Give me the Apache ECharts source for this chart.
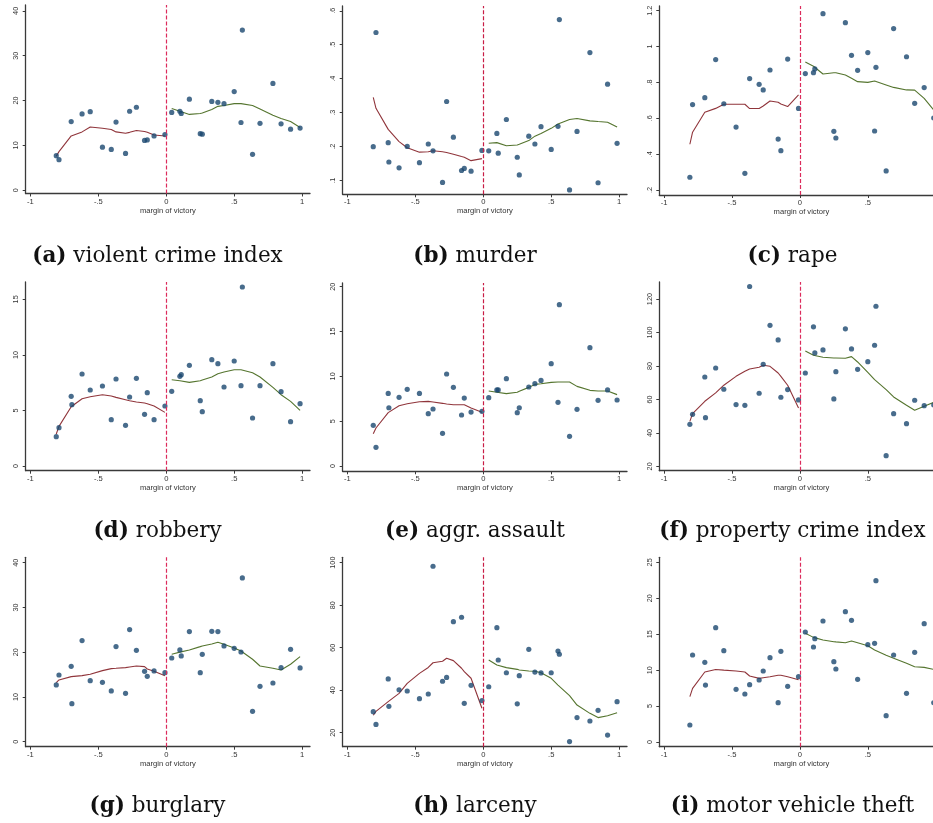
<!DOCTYPE html>
<html><head><meta charset="utf-8">
<script src="https://cdn.jsdelivr.net/npm/echarts@6/dist/echarts.min.js"></script>
<style>html,body{margin:0;padding:0;background:#fff}#c{width:933px;height:823px}</style>
</head><body><div id="c"></div>
<script>
// ---- shared x positions (margin of victory) ----
const xLeft  = [-0.81, -0.79, -0.70, -0.695, -0.62, -0.56, -0.47, -0.405, -0.37, -0.30, -0.27, -0.22, -0.16, -0.14, -0.09, -0.01];
const xRight = [0.04, 0.10, 0.11, 0.17, 0.25, 0.265, 0.335, 0.38, 0.425, 0.50, 0.55, 0.56, 0.635, 0.69, 0.785, 0.845, 0.915, 0.985];
const xTicks = [-1, -0.5, 0, 0.5, 1];

// ---- (a) violent crime index ----
const violentPtsL = [7.7, 6.8, 15.3, null, 17.0, 17.5, 9.6, 9.1, 15.2, 8.2, 17.6, 18.5, 11.1, 11.2, 12.1, 12.4];
const violentPtsR = [17.35, 17.6, 17.1, 20.3, 12.6, 12.5, 19.8, 19.6, 19.3, 22.0, 15.1, 35.7, 8.0, 14.9, 23.8, 14.8, 13.6, 13.85];
const violentFitL = [7.6, 8.6, 12.1, 12.2, 13.0, 14.1, 13.8, 13.55, 13.0, 12.7, 12.9, 13.3, 13.1, 12.9, 12.3, 12.1];
const violentFitR = [18.2, 17.6, 17.5, 16.9, 17.1, 17.2, 18.0, 18.7, 18.9, 19.3, 19.3, 19.2, 18.9, 18.1, 16.7, 16.0, 15.3, 14.0];
const violentTicks = [0, 10, 20, 30, 40];

// ---- (b) murder ----
const murderPtsL = [0.200, 0.536, 0.212, 0.155, 0.138, 0.201, 0.153, 0.208, 0.188, 0.095, 0.333, 0.228, 0.130, 0.136, 0.128, 0.189];
const murderPtsR = [0.188, 0.239, 0.181, 0.280, 0.169, 0.117, 0.231, 0.208, 0.259, 0.192, 0.260, 0.574, 0.073, 0.245, 0.477, 0.094, 0.384, 0.210];
const murderFitL = [0.345, 0.313, 0.251, 0.249, 0.215, 0.197, 0.184, 0.185, 0.188, 0.185, 0.183, 0.178, 0.171, 0.169, 0.159, 0.165];
const murderFitR = [0.210, 0.212, 0.211, 0.203, 0.205, 0.207, 0.218, 0.231, 0.239, 0.254, 0.267, 0.269, 0.280, 0.283, 0.276, 0.274, 0.272, 0.258];
const murderTicks = [0.1, 0.2, 0.3, 0.4, 0.5, 0.6];

// ---- (c) rape ----
const rapePtsL = [0.271, 0.676, 0.715, null, 0.927, 0.681, 0.551, 0.293, 0.821, 0.789, 0.758, 0.869, 0.484, 0.419, 0.930, 0.655];
const rapePtsR = [0.849, 0.854, 0.875, 1.183, 0.527, 0.490, 1.133, 0.951, 0.867, 0.966, 0.529, 0.884, 0.306, 1.100, 0.943, 0.683, 0.771, 0.601];
const rapeFitL = [0.455, 0.522, 0.633, 0.634, 0.655, 0.678, 0.678, 0.678, 0.654, 0.654, 0.668, 0.696, 0.689, 0.680, 0.665, 0.730];
const rapeFitR = [0.914, 0.890, 0.885, 0.847, 0.854, 0.854, 0.841, 0.823, 0.804, 0.800, 0.808, 0.808, 0.786, 0.772, 0.758, 0.757, 0.711, 0.646];
const rapeTicks = [0.2, 0.4, 0.6, 0.8, 1, 1.2];

// ---- (d) robbery ----
const robberyPtsL = [2.64, 3.45, 6.27, 5.52, 8.28, 6.84, 7.2, 4.17, 7.83, 3.66, 6.21, 7.89, 4.65, 6.6, 4.17, 5.4];
const robberyPtsR = [6.72, 8.07, 8.22, 9.06, 5.88, 4.89, 9.57, 9.21, 7.11, 9.45, 7.23, 16.11, 4.32, 7.23, 9.21, 6.69, 3.99, 5.61];
const robberyFitL = [2.88, 3.57, 5.34, 5.4, 6.06, 6.24, 6.42, 6.3, 6.18, 5.97, 5.88, 5.76, 5.67, 5.61, 5.4, 4.83];
const robberyFitR = [7.77, 7.68, 7.68, 7.53, 7.68, 7.74, 8.01, 8.31, 8.46, 8.67, 8.67, 8.58, 8.4, 8.01, 7.08, 6.42, 5.82, 5.01];
const robberyTicks = [0, 5, 10, 15];

// ---- (e) aggr. assault ----
const assaultPtsL = [4.54, 2.08, 8.1, 6.5, 7.66, 8.55, 8.1, 5.84, 6.36, 3.64, 10.26, 8.77, 5.69, 7.58, 6.02, 6.1];
const assaultPtsR = [7.62, 8.48, 8.48, 9.74, 5.95, 6.5, 8.81, 9.18, 9.55, 11.41, 7.1, 17.99, 3.31, 6.32, 13.2, 7.32, 8.48, 7.36];
const assaultFitL = [3.6, 4.24, 5.95, 6.0, 6.73, 6.95, 7.17, 7.21, 7.14, 6.99, 6.91, 6.84, 6.84, 6.84, 6.47, 5.99];
const assaultFitR = [8.36, 8.22, 8.2, 8.07, 8.22, 8.33, 8.77, 9.1, 9.18, 9.33, 9.37, 9.37, 9.37, 8.88, 8.44, 8.36, 8.36, 7.96];
const assaultTicks = [0, 5, 10, 15, 20];

// ---- (f) property crime index ----
const propertyPtsL = [45.1, 51.1, 73.4, 49.1, 78.8, 66.1, 56.9, 56.5, 127.5, 63.7, 81.0, 104.3, 95.6, 61.3, 65.9, 59.7];
const propertyPtsR = [75.8, 103.4, 87.8, 89.6, 60.3, 76.6, 102.2, 90.2, 78.0, 82.6, 92.4, 115.7, 26.4, 51.5, 45.5, 59.5, 56.3, 56.7];
const propertyFitL = [46.9, 51.5, 58.9, 59.1, 63.9, 68.5, 73.8, 76.8, 78.2, 79.2, 80.4, 79.8, 75.8, 73.8, 68.5, 54.9];
const propertyFitR = [89.0, 86.4, 86.0, 85.2, 84.8, 84.8, 84.6, 85.6, 82.4, 76.2, 71.8, 70.8, 65.9, 61.5, 56.5, 53.5, 55.9, 58.3];
const propertyTicks = [20, 40, 60, 80, 100, 120];

// ---- (g) burglary ----
const burglaryPtsL = [12.67, 14.9, 16.84, 8.49, 22.58, 13.64, 13.26, 11.33, 21.24, 10.8, 25.04, 20.42, 15.72, 14.6, 15.8, 15.42];
const burglaryPtsR = [18.7, 20.49, 19.15, 24.59, 15.42, 19.52, 24.66, 24.59, 21.39, 20.86, 20.04, 36.59, 6.78, 12.37, 13.11, 16.54, 20.64, 16.47];
const burglaryFitL = [13.19, 13.79, 14.53, 14.55, 14.75, 15.05, 15.87, 16.32, 16.39, 16.54, 16.69, 16.91, 16.77, 16.24, 15.72, 14.75];
const burglaryFitR = [19.52, 20.0, 20.04, 20.49, 21.24, 21.39, 21.83, 22.2, 21.76, 20.94, 20.27, 19.9, 18.41, 16.91, 16.39, 16.02, 17.29, 19.0];
const burglaryTicks = [0, 10, 20, 30, 40];

// ---- (h) larceny ----
const larcenyPtsL = [29.9, 23.9, 45.3, 32.4, 40.2, 39.6, 36.0, 38.2, 98.3, 44.2, 46.0, 72.2, 74.3, 33.8, 42.3, 35.1];
const larcenyPtsR = [41.6, 69.4, 54.2, 48.2, 33.6, 46.8, 59.2, 48.5, 48.1, 48.2, 58.4, 56.9, 15.8, 27.1, 25.5, 30.5, 18.9, 34.6];
const larcenyFitL = [28.2, 30.0, 34.6, 34.8, 38.5, 43.2, 47.9, 50.7, 52.9, 53.6, 55.0, 53.9, 50.3, 48.7, 45.6, 31.5];
const larcenyFitR = [54.2, 51.8, 51.5, 50.6, 49.8, 49.5, 49.0, 48.9, 48.2, 45.6, 42.4, 41.6, 37.4, 33.0, 29.1, 27.1, 28.0, 29.4];
const larcenyTicks = [20, 40, 60, 80, 100];

// ---- (i) motor vehicle theft ----
const theftPtsL = [2.37, 12.11, 11.09, 7.93, 15.91, 12.71, 7.33, 6.68, 7.98, 8.63, 9.88, 11.73, 5.47, 12.62, 7.75, 9.09];
const theftPtsR = [15.31, 13.22, 14.38, 16.84, 11.18, 10.16, 18.14, 16.93, 8.72, 13.54, 13.73, 22.45, 3.66, 12.11, 6.77, 12.48, 16.47, 5.47];
const theftFitL = [6.31, 7.47, 9.74, 9.7, 10.1, 10.0, 9.88, 9.74, 9.18, 8.86, 8.95, 9.09, 9.28, 9.28, 9.09, 8.67];
const theftFitR = [15.12, 14.56, 14.38, 14.19, 13.96, 13.93, 13.82, 14.05, 13.82, 13.4, 12.8, 12.71, 12.06, 11.64, 10.95, 10.48, 10.39, 10.1];
const theftTicks = [0, 5, 10, 15, 20, 25];

// ---- panel captions ----
const panelLetters = ['(a)', '(b)', '(c)', '(d)', '(e)', '(f)', '(g)', '(h)', '(i)'];
const panelNames = ['violent crime index', 'murder', 'rape', 'robbery', 'aggr. assault', 'property crime index', 'burglary', 'larceny', 'motor vehicle theft'];

const panels = [
  [violentPtsL, violentPtsR, violentFitL, violentFitR, violentTicks],
  [murderPtsL, murderPtsR, murderFitL, murderFitR, murderTicks],
  [rapePtsL, rapePtsR, rapeFitL, rapeFitR, rapeTicks],
  [robberyPtsL, robberyPtsR, robberyFitL, robberyFitR, robberyTicks],
  [assaultPtsL, assaultPtsR, assaultFitL, assaultFitR, assaultTicks],
  [propertyPtsL, propertyPtsR, propertyFitL, propertyFitR, propertyTicks],
  [burglaryPtsL, burglaryPtsR, burglaryFitL, burglaryFitR, burglaryTicks],
  [larcenyPtsL, larcenyPtsR, larcenyFitL, larcenyFitR, larcenyTicks],
  [theftPtsL, theftPtsR, theftFitL, theftFitR, theftTicks]
];

// ---- layout (positions, axis extents) ----
const colLeft = [25.7, 342.7, 659.3];
const plotW = 284.3;
const layout = [
  {top: 5,   h: 188.5, ymin: -0.74, ymax: 41.3},
  {top: 6,   h: 188.3, ymin: 0.060, ymax: 0.614},
  {top: 6,   h: 189,   ymin: 0.172, ymax: 1.226},
  {top: 282, h: 188.7, ymin: -0.42, ymax: 16.56},
  {top: 283, h: 188.3, ymin: -0.59, ymax: 20.41},
  {top: 282, h: 188.7, ymin: 17.4,  ymax: 130.2},
  {top: 557.3, h: 189.4, ymin: -1.12, ymax: 41.19},
  {top: 557.3, h: 189.4, ymin: 13.41, ymax: 102.5},
  {top: 557.3, h: 189.4, ymin: -0.65, ymax: 25.7}
];
const captionY = [256, 531, 806];
const captionX = [157.5, 475, 792.5];

const navy = '#1a476f', maroon = '#90353b', green = '#55752f';
const cutColor = ['#dc2b5c', '#c81d45', '#dc2b5c'];
const axisColor = '#3a3a3a';
const fontSans = 'Liberation Sans, Arial, sans-serif';

function fmt(v) {
  let s = String(Math.round(v * 1000) / 1000);
  return s.replace(/^0\./, '.').replace(/^-0\./, '-.');
}
function pairs(xs, ys) {
  const out = [];
  for (let i = 0; i < xs.length; i++) if (ys[i] != null) out.push([xs[i], ys[i]]);
  return out;
}

const grid = [], xAxis = [], yAxis = [], series = [], graphic = [];
panels.forEach((p, i) => {
  const col = i % 3, row = Math.floor(i / 3);
  const L = layout[i];
  grid.push({left: colLeft[col], top: L.top, width: plotW, height: L.h, containLabel: false, outerBoundsMode: 'none'});
  xAxis.push({
    gridIndex: i, type: 'value', min: -1.035, max: 1.058,
    name: 'margin of victory', nameLocation: 'middle', nameGap: 13,
    nameTextStyle: {fontFamily: fontSans, fontSize: 7.6, color: '#333'},
    axisLine: {show: true, onZero: false, lineStyle: {color: axisColor, width: 1.3}},
    axisTick: {show: true, length: 3, customValues: xTicks, lineStyle: {color: axisColor, width: 1}},
    axisLabel: {show: true, customValues: xTicks, formatter: fmt, margin: 4, fontFamily: fontSans, fontSize: 7.6, color: '#333'},
    splitLine: {show: false}
  });
  yAxis.push({
    gridIndex: i, type: 'value', min: L.ymin, max: L.ymax,
    axisLine: {show: true, onZero: false, lineStyle: {color: axisColor, width: 1.3}},
    axisTick: {show: true, length: 3, customValues: p[4], lineStyle: {color: axisColor, width: 1}},
    axisLabel: {show: true, customValues: p[4], formatter: fmt, rotate: 90, margin: 6, fontFamily: fontSans, fontSize: 7.3, color: '#333'},
    splitLine: {show: false}
  });
  series.push({
    type: 'line', xAxisIndex: i, yAxisIndex: i, data: pairs(xLeft, p[2]),
    showSymbol: false, symbol: 'none', lineStyle: {color: maroon, width: 1.1}, z: 2
  });
  series.push({
    type: 'line', xAxisIndex: i, yAxisIndex: i, data: pairs(xRight, p[3]),
    showSymbol: false, symbol: 'none', lineStyle: {color: green, width: 1.1}, z: 2
  });
  series.push({
    type: 'scatter', xAxisIndex: i, yAxisIndex: i,
    data: pairs(xLeft, p[0]).concat(pairs(xRight, p[1])),
    symbol: 'circle', symbolSize: 5.2, itemStyle: {color: navy}, z: 3,
    markLine: {
      silent: true, symbol: ['none', 'none'], label: {show: false},
      lineStyle: {color: cutColor[col], type: [4, 2], width: 1.2},
      data: [{xAxis: 0}]
    }
  });
  graphic.push({
    type: 'text', x: captionX[col], y: captionY[row],
    style: {
      text: '{b|' + panelLetters[i] + '} ' + panelNames[i],
      font: '21.5px "DejaVu Serif", serif', fill: '#111',
      textAlign: 'center', textVerticalAlign: 'middle',
      rich: {b: {fontWeight: 'bold', fontFamily: 'DejaVu Serif', fontSize: 21.5, fill: '#111'}}
    }
  });
});

const chart = echarts.init(document.getElementById('c'), null, {renderer: 'canvas'});
chart.setOption({
  animation: false, backgroundColor: '#fff',
  grid, xAxis, yAxis, series, graphic
});
</script>
</body></html>
